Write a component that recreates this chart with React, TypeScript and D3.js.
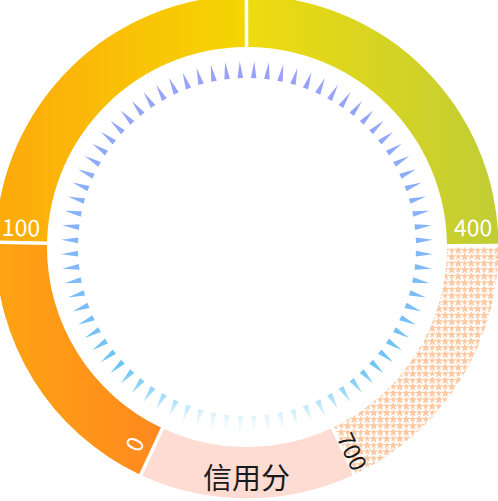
import React, { useEffect, useRef } from "react";
import * as d3 from "d3";

// ring segments, clockwise from the bottom-left gap (degrees of arc)
const segmentNames = ["0", "100", "400", "700", "信用分"];
const segmentSpans = [66, 89, 90, 65, 50];
const ringStart = -155;
const tickCount = 80;

const App = () => {
  const svgRef = useRef<SVGSVGElement>(null);

  useEffect(() => {
    const width = 498, height = 501;
    const cx = 247, cy = 247, outerR = 251.5, innerR = 200;
    const rad = Math.PI / 180;
    const svg = d3.select(svgRef.current);

    // Clear previous chart
    svg.selectAll("*").remove();
    svg.attr("width", width).attr("height", height);

    const defs = svg.append("defs");

    const addGrad = (id, x1, x2, stops, y1 = 0, y2 = 0) => {
      const g = defs.append("linearGradient")
        .attr("id", id)
        .attr("gradientUnits", "userSpaceOnUse")
        .attr("x1", x1).attr("x2", x2)
        .attr("y1", y1).attr("y2", y2);
      stops.forEach(([o, c]) => g.append("stop").attr("offset", o).attr("stop-color", c));
    };
    // segment gradients live in the centred group's space
    addGrad("gA", 0 - cx, 165 - cx, [[0, "#FFA312"], [1, "#FF881F"]]);
    addGrad("gB", 0 - cx, 0, [[0, "#FDAA0B"], [1, "#F5D602"]]);
    addGrad("gC", 0, 498 - cx, [[0, "#EFDB0E"], [1, "#C0CD35"]]);
    addGrad("gTick", 0, 0, [
      [0, "#9B9FFA"], [0.5, "#83B6F8"], [0.83, "#6DC6F5"],
      [0.9, "#A2DCF9"], [0.96, "#E3F5FD"], [1, "#F4FBFF"],
    ], cy - 185, cy + 185);

    // star pattern
    const tile = 13;
    const pat = defs.append("pattern")
      .attr("id", "stars")
      .attr("patternUnits", "userSpaceOnUse")
      .attr("width", tile).attr("height", tile);
    pat.append("rect").attr("width", tile).attr("height", tile).attr("fill", "#fff");
    const bigStar = d3.symbol().type(d3.symbolStar).size(28)();
    const smallStar = d3.symbol().type(d3.symbolStar).size(15)();
    [[3.25, 3.25, bigStar], [9.75, 9.75, bigStar], [9.75, 3.25, smallStar], [3.25, 9.75, smallStar]]
      .forEach(([x, y, p]) => pat.append("path")
        .attr("d", p as string)
        .attr("transform", `translate(${x},${y})`)
        .attr("fill", "#FFC8A0"));

    const fills = ["url(#gA)", "url(#gB)", "url(#gC)", "url(#stars)", "#FFDCD3"];

    const data = segmentNames.map((name, i) => ({ name, value: segmentSpans[i] }));
    const pie = d3.pie<any>()
      .value(d => d.value)
      .sort(null)
      .startAngle(ringStart * rad)
      .endAngle((ringStart + 360) * rad)
      .padAngle(0.0155);
    const arcs = pie(data);
    const arc = d3.arc<any>().innerRadius(innerR).outerRadius(outerR).padRadius(226);

    const g = svg.append("g").attr("transform", `translate(${cx},${cy})`);
    g.selectAll("path.seg")
      .data(arcs)
      .enter()
      .append("path")
      .attr("class", "seg")
      .attr("d", arc)
      .attr("fill", (d, i) => fills[i]);

    // ticks: small triangles pointing outward, absolute coords so the gradient stays vertical
    const tickAngles = d3.range(tickCount).map(i => ((i + 0.5) * 360) / tickCount);
    const pt = (a, r, off = 0) => {
      const t = a * rad;
      return [cx + r * Math.sin(t) + off * Math.cos(t), cy - r * Math.cos(t) + off * Math.sin(t)];
    };
    svg.append("g")
      .selectAll("path")
      .data(tickAngles)
      .enter()
      .append("path")
      .attr("d", a => {
        const p1 = pt(a, 169, -2.8), p2 = pt(a, 169, 2.8), p3 = pt(a, 186);
        return `M${p1}L${p2}L${p3}Z`;
      })
      .attr("fill", "url(#gTick)");

    // labels along the radius at the segment edges
    const labelInfo = [
      { edge: "start", off: 5, r: 227, color: "#fff" },
      { edge: "start", off: 4.2, r: 227, color: "#fff" },
      { edge: "end", off: 4.9, r: 227, color: "#fff" },
      { edge: "end", off: 2.3, r: 230, color: "#1a1a1a" },
    ];
    labelInfo.forEach((info, i) => {
      const a0 = arcs[i].startAngle / rad, a1 = arcs[i].endAngle / rad;
      const edge = info.edge === "start" ? a0 : a1;
      const a = info.edge === "start" ? edge + info.off : edge - info.off;
      const [x, y] = pt(a, info.r);
      let rot = edge - 90;
      rot = ((rot % 360) + 360) % 360;
      if (rot > 90 && rot < 270) rot -= 180;
      svg.append("text")
        .attr("transform", `translate(${x},${y}) rotate(${rot})`)
        .attr("text-anchor", "middle")
        .attr("dominant-baseline", "central")
        .attr("font-family", "'Noto Sans CJK SC', 'Noto Sans', sans-serif")
        .attr("font-size", 23)
        .attr("fill", info.color)
        .text(arcs[i].data.name);
    });

    svg.append("text")
      .attr("x", 246.5)
      .attr("y", 476)
      .attr("text-anchor", "middle")
      .attr("dominant-baseline", "central")
      .attr("font-family", "'Noto Sans CJK SC', sans-serif")
      .attr("font-size", 29)
      .attr("fill", "#1a1a1a")
      .text(arcs[4].data.name);
  }, []);

  return <svg ref={svgRef} style={{ position: "absolute", left: 0, top: 0, display: "block" }}></svg>;
};

export default App;
